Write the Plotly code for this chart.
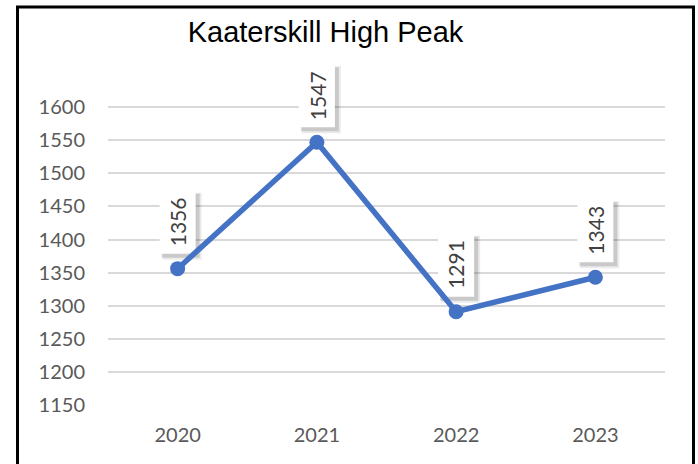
"""Line chart: Kaaterskill High Peak yearly values."""
import plotly.graph_objects as go

years = ["2020", "2021", "2022", "2023"]
values = [1356, 1547, 1291, 1343]
y_ticks = [1150, 1200, 1250, 1300, 1350, 1400, 1450, 1500, 1550, 1600]

LINE_COLOR = "#4472C4"
GRID_COLOR = "#D9D9D9"
TEXT_COLOR = "#595959"
LABEL_FONT = "Lato, 'Open Sans', sans-serif"

fig = go.Figure(go.Scatter(
    x=years, y=values,
    mode="lines+markers",
    line=dict(color=LINE_COLOR, width=5.5),
    marker=dict(color=LINE_COLOR, size=15),
    hoverinfo="skip",
))

# data labels: white boxes (with soft shadow) under the line, vertical text on top
shapes = []
annotations = []
for i, v in enumerate(values):
    for (x0, x1, y0, y1, col) in [
        (-15, 24, 9, 76, "rgba(0,0,0,0.08)"),
        (-16, 22, 11, 75, "rgba(0,0,0,0.14)"),
        (-18, 18, 15, 79, "white"),
    ]:
        shapes.append(dict(
            type="rect", xref="x", yref="y", layer="between",
            xsizemode="pixel", ysizemode="pixel", xanchor=i, yanchor=v,
            x0=x0, x1=x1, y0=y0, y1=y1,
            fillcolor=col, line=dict(width=0),
        ))
    annotations.append(dict(
        x=i, y=v, text=str(v), showarrow=False, textangle=-90,
        yshift=47, xshift=0,
        font=dict(family=LABEL_FONT, size=21, color="#404040"),
    ))

# chart frame (bottom edge runs off the picture)
shapes.append(dict(
    type="rect", xref="paper", yref="paper",
    x0=(17.5 - 108) / 557, x1=(693.5 - 108) / 557,
    y0=-0.3, y1=(405 - 7) / 364,
    line=dict(color="black", width=3), layer="above",
))

fig.update_layout(
    width=698, height=464,
    margin=dict(l=108, r=33, t=41, b=59, autoexpand=False),
    paper_bgcolor="white", plot_bgcolor="white",
    showlegend=False,
    title=dict(
        text="Kaaterskill High Peak",
        x=325.5 / 698, xanchor="center",
        y=1 - 32 / 464, yanchor="middle",
        font=dict(family="'Liberation Sans', Arial, sans-serif", size=29, color="black"),
    ),
    xaxis=dict(
        type="category", range=[-0.5, 3.5],
        showgrid=False, zeroline=False, showline=False,
        ticks="", ticklabelstandoff=16,
        tickfont=dict(family=LABEL_FONT, size=20, color=TEXT_COLOR),
    ),
    yaxis=dict(
        range=[1150, 1700], tickvals=y_ticks,
        showgrid=True, gridcolor=GRID_COLOR, gridwidth=1.5,
        zeroline=False, showline=False,
        ticks="", ticklabelstandoff=22,
        tickfont=dict(family=LABEL_FONT, size=20, color=TEXT_COLOR),
    ),
    annotations=annotations,
    shapes=shapes,
)

# the page body has a default 8px margin; drop it so the figure sits at 0,0
fig.write_html(
    "out.html",
    config={"displayModeBar": False},
    post_script="document.body.style.margin='0';",
)
